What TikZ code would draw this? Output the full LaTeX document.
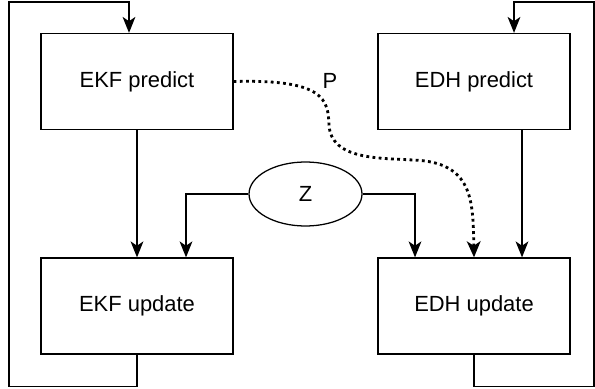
\documentclass[tikz,border=0pt]{standalone}
\usepackage{fontspec}
\setmainfont{Liberation Sans}
\usetikzlibrary{arrows.meta,shapes.geometric}

\begin{document}
\begin{tikzpicture}[line width=0.9pt, font=\fontsize{15.6}{18}\selectfont,
		block/.style={draw, rectangle, minimum width=4.8cm, minimum height=2.4cm},
		arr/.style={-{Stealth[length=4mm, width=3.2mm, inset=1.1mm]}}]
		%\draw[help lines] (0,0) grid (15,10);
		\useasboundingbox (0,0) rectangle (14.875,9.7);
		
		\foreach \n/\x/\y/\s in {ekfp/3.425/7.6625/EKF predict,
			edhp/11.85/7.6625/EDH predict,
			ekfu/3.425/2.05/EKF update,
			edhu/11.85/2.05/EDH update}
		\node[block] (\n) at (\x, \y) {\s};
		
		\node[draw, ellipse, minimum width=2.825cm, minimum height=1.6cm, inner sep=0mm] (z) at (7.6375, 4.85) {Z};
		\node (p) at (8.25, 7.675) {P};
		
		\draw[arr] (ekfp) -- (ekfu);
		\draw[arr] ([xshift=1.2cm]edhp.south) -- ([xshift=1.2cm]edhu.north);
		
		\draw[arr] (z.west) -| ([xshift=1.225cm]ekfu.north);
		\draw[arr] (z.east) -| ([xshift=-1.475cm]edhu.north);
		
		% loops back to predict
		\draw[arr] (ekfu.south) -- ++(0,-0.8) -| (0.225,9.65) -| ([xshift=-0.2cm]ekfp.north);
		\draw[arr] (edhu.south) -- ++(0,-0.8) -| (14.85,9.65) -| ([xshift=1cm]edhp.north);
		
		\draw[-{Stealth[length=4mm, width=3.4mm, inset=1.1mm]}, line width=2pt, dash pattern=on 2pt off 2.4pt]
		(ekfp.east) .. controls (8.125,7.725) and (8.2,7.2) .. (8.225,6.575)
		.. controls (8.275,5.7) and (9.5,5.75) .. (10.325,5.7)
		.. controls (11.825,5.65) and (11.825,4.7) .. (edhu.north);
		
	\end{tikzpicture}
\end{document}
